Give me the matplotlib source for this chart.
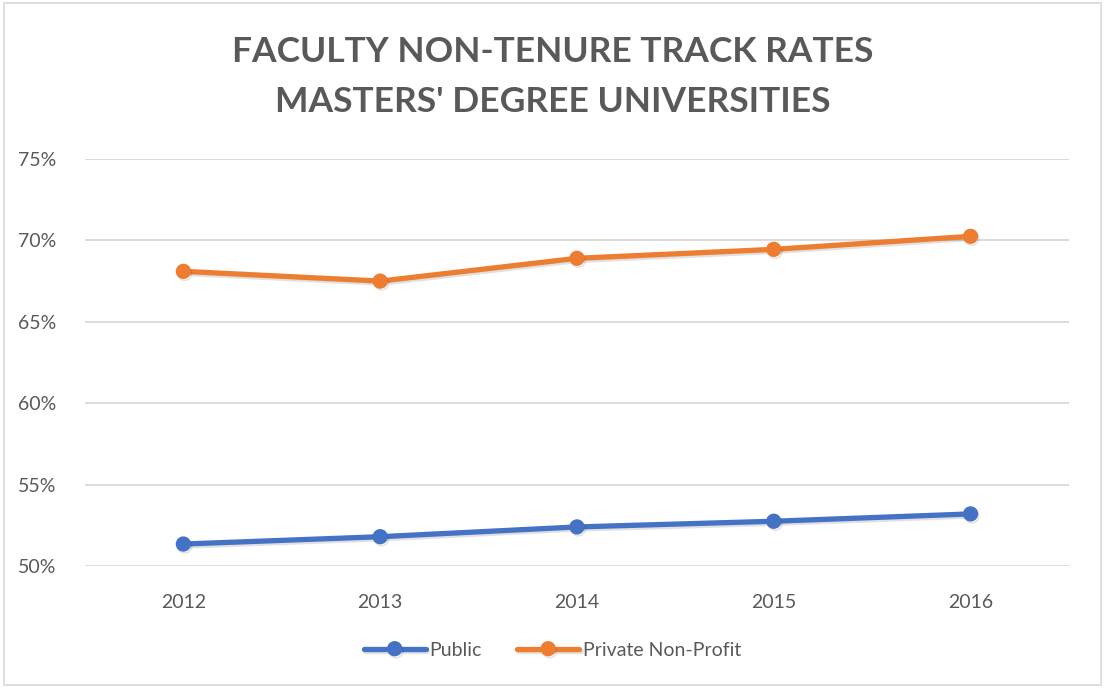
import matplotlib.pyplot as plt
import matplotlib.patheffects as pe
from matplotlib.patches import Rectangle

# ---------- Data ----------
years = ["2012", "2013", "2014", "2015", "2016"]
public = [51.35, 51.8, 52.4, 52.75, 53.2]
private_np = [68.1, 67.5, 68.9, 69.45, 70.25]
y_ticks = [50, 55, 60, 65, 70, 75]

plt.rcParams["font.family"] = ["Lato", "DejaVu Sans"]
text_col = "#595959"

fig = plt.figure(figsize=(11.05, 6.88), dpi=100)
ax = fig.add_axes([0.0769, 0.1773, 0.8905, 0.5916])

# soft drop shadow under the lines
shadow = [pe.SimpleLineShadow(offset=(1.0, -1.5), shadow_color="black", alpha=0.12), pe.Normal()]
x = range(len(years))
ax.plot(x, public, color="#4472C4", lw=3.8, marker="o", ms=10, label="Public",
        path_effects=shadow, solid_capstyle="round", zorder=3)
ax.plot(x, private_np, color="#ED7D31", lw=3.8, marker="o", ms=10, label="Private Non-Profit",
        path_effects=shadow, solid_capstyle="round", zorder=3)

ax.set_xlim(-0.5, len(years) - 0.5)
ax.set_ylim(50, 75)
ax.set_xticks(list(x))
ax.set_xticklabels(years)
ax.set_yticks(y_ticks)
ax.set_yticklabels([f"{v}%" for v in y_ticks])
ax.tick_params(axis="both", length=0, labelsize=14, labelcolor=text_col)
ax.tick_params(axis="y", pad=21)
ax.tick_params(axis="x", pad=20)
ax.grid(axis="y", color="#D9D9D9", lw=1.3)
ax.set_axisbelow(True)
for s in ax.spines.values():
    s.set_visible(False)

fig.text(0.5, 1 - 77 / 688, "FACULTY NON-TENURE TRACK RATES\nMASTERS' DEGREE UNIVERSITIES",
         ha="center", va="center", fontsize=25.5, fontweight="bold", color=text_col,
         linespacing=1.72)

ax.legend(loc="center", bbox_to_anchor=(0.5, 1 - 650 / 688), bbox_transform=fig.transFigure,
          ncol=2, frameon=False, fontsize=14, labelcolor=text_col,
          handlelength=3.2, handletextpad=0.2, columnspacing=1.8)

fig.patches.append(Rectangle((0.004, 0.004), 0.992, 0.992, transform=fig.transFigure,
                             fill=False, edgecolor="#D9D9D9", lw=1.2))

fig.savefig("out.png", dpi=100)
